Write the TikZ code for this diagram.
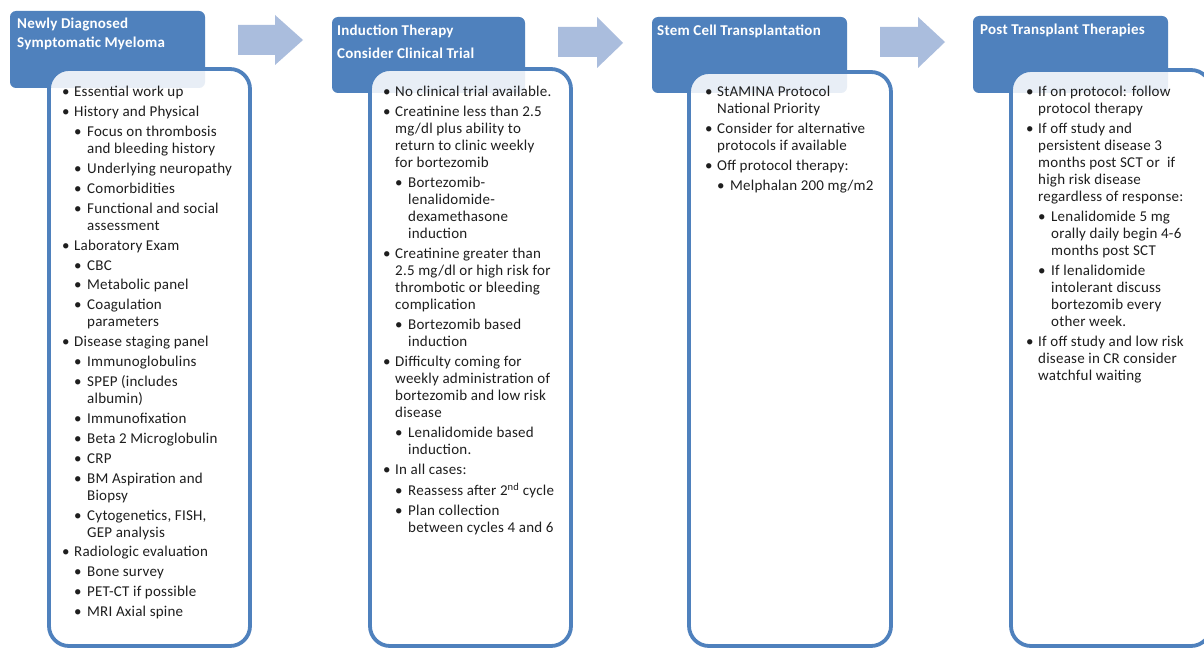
\documentclass[tikz,border=0pt]{standalone}
\usepackage{fontspec}
\setmainfont{Carlito}[LetterSpace=1.5]
\definecolor{hdr}{HTML}{4F81BD}
\definecolor{arw}{HTML}{AABDDD}
\definecolor{txt}{HTML}{1E1E1E}
\newcommand{\BulA}[1]{\strut\makebox[9pt][l]{\hspace*{-3pt}\textbullet}#1}
\newcommand{\ContA}[1]{\strut\hspace*{9pt}#1}
\newcommand{\BulB}[1]{\strut\hspace*{11pt}\makebox[11pt][l]{\hspace*{-2pt}\textbullet}#1}
\newcommand{\ContB}[1]{\strut\hspace*{22pt}#1}
\tikzset{
  hdrbox/.style={fill=hdr, rounded corners=6pt},
  cbox/.style={draw=hdr, line width=3.8pt, fill=white, fill opacity=0.87, rounded corners=20pt},
  blockarrow/.style={fill=arw},
  hdrtxt/.style={anchor=base west, inner sep=0pt, text=white, font=\fontsize{15}{17}\selectfont\bfseries},
  bodytxt/.style={anchor=north west, inner sep=0pt, align=left, text=txt, font=\fontsize{15}{17}\selectfont},
}
\begin{document}
\begin{tikzpicture}[x=1pt,y=-1pt]
\useasboundingbox (0,0) rectangle (1204,650);
\clip (0,0) rectangle (1204,650);
\fill[white] (0,0) rectangle (1204,650);
% block arrows
\fill[blockarrow] (238,25) -- (275,25) -- (275,15) -- (303,40) -- (275,65) -- (275,55) -- (238,55) -- cycle;
\fill[blockarrow] (558,27) -- (597,27) -- (597,17) -- (623,43) -- (597,68) -- (597,57) -- (558,57) -- cycle;
\fill[blockarrow] (880,27) -- (918,27) -- (918,17) -- (945,42) -- (918,68) -- (918,57) -- (880,57) -- cycle;
% headers
\fill[hdrbox] (10,11) rectangle (205,88);
\fill[hdrbox] (332,17) rectangle (525,93);
\fill[hdrbox] (652,17) rectangle (847,93);
\fill[hdrbox] (973,16) rectangle (1168,93);
% content boxes
\draw[cbox] (49,69) rectangle (250,646);
\draw[cbox] (370,69) rectangle (571,646);
\draw[cbox] (689,72) rectangle (891,646);
\draw[cbox] (1011,70) rectangle (1211,646);
% header texts
\node[hdrtxt] (h1a) at (17,29) {Newly Diagnosed};
\node[hdrtxt] (h1b) at (17,48) {Symptomatic Myeloma};
\node[hdrtxt] (h2a) at (337,36) {Induction Therapy};
\node[hdrtxt] (h2b) at (337,58.5) {Consider Clinical Trial};
\node[hdrtxt] (h3) at (657,35.5) {Stem Cell Transplantation};
\node[hdrtxt] (h4) at (980,34.5) {Post Transplant Therapies};
% body texts
\node[bodytxt] (b1) at (65,84.6) {%
\BulA{Essential work up}\\[2.9pt]
\BulA{History and Physical}\\[2.9pt]
\BulB{Focus on thrombosis}\\
\ContB{and bleeding history}\\[2.9pt]
\BulB{Underlying neuropathy}\\[2.9pt]
\BulB{Comorbidities}\\[2.9pt]
\BulB{Functional and social}\\
\ContB{assessment}\\[2.9pt]
\BulA{Laboratory Exam}\\[2.9pt]
\BulB{CBC}\\[2.9pt]
\BulB{Metabolic panel}\\[2.9pt]
\BulB{Coagulation}\\
\ContB{parameters}\\[2.9pt]
\BulA{Disease staging panel}\\[2.9pt]
\BulB{Immunoglobulins}\\[2.9pt]
\BulB{SPEP (includes}\\
\ContB{albumin)}\\[2.9pt]
\BulB{Immunofixation}\\[2.9pt]
\BulB{Beta 2 Microglobulin}\\[2.9pt]
\BulB{CRP}\\[2.9pt]
\BulB{BM Aspiration and}\\
\ContB{Biopsy}\\[2.9pt]
\BulB{Cytogenetics, FISH,}\\
\ContB{GEP analysis}\\[2.9pt]
\BulA{Radiologic evaluation}\\[2.9pt]
\BulB{Bone survey}\\[2.9pt]
\BulB{PET-CT if possible}\\[2.9pt]
\BulB{MRI Axial spine}};
\node[bodytxt] (b2) at (386,84.6) {%
\BulA{No clinical trial available.}\\[2.9pt]
\BulA{Creatinine less than 2.5}\\
\ContA{mg/dl plus ability to}\\
\ContA{return to clinic weekly}\\
\ContA{for bortezomib}\\[2.9pt]
\BulB{Bortezomib-}\\
\ContB{lenalidomide-}\\
\ContB{dexamethasone}\\
\ContB{induction}\\[2.9pt]
\BulA{Creatinine greater than}\\
\ContA{2.5 mg/dl or high risk for}\\
\ContA{thrombotic or bleeding}\\
\ContA{complication}\\[2.9pt]
\BulB{Bortezomib based}\\
\ContB{induction}\\[2.9pt]
\BulA{Difficulty coming for}\\
\ContA{weekly administration of}\\
\ContA{bortezomib and low risk}\\
\ContA{disease}\\[2.9pt]
\BulB{Lenalidomide based}\\
\ContB{induction.}\\[2.9pt]
\BulA{In all cases:}\\[2.9pt]
\BulB{Reassess after 2\textsuperscript{nd} cycle}\\[2.9pt]
\BulB{Plan collection}\\
\ContB{between cycles 4 and 6}};
\node[bodytxt] (b3) at (708,84.6) {%
\BulA{StAMINA Protocol}\\
\ContA{National Priority}\\[2.9pt]
\BulA{Consider for alternative}\\
\ContA{protocols if available}\\[2.9pt]
\BulA{Off protocol therapy:}\\[2.9pt]
\BulB{Melphalan 200 mg/m2}};
\node[bodytxt] (b4) at (1029,84.6) {%
\BulA{If on protocol: follow}\\
\ContA{protocol therapy}\\[2.9pt]
\BulA{If off study and}\\
\ContA{persistent disease 3}\\
\ContA{months post SCT or \ if}\\
\ContA{high risk disease}\\
\ContA{regardless of response:}\\[2.9pt]
\BulB{Lenalidomide 5 mg}\\
\ContB{orally daily begin 4-6}\\
\ContB{months post SCT}\\[2.9pt]
\BulB{If lenalidomide}\\
\ContB{intolerant discuss}\\
\ContB{bortezomib every}\\
\ContB{other week.}\\[2.9pt]
\BulA{If off study and low risk}\\
\ContA{disease in CR consider}\\
\ContA{watchful waiting}};
\end{tikzpicture}
\end{document}
